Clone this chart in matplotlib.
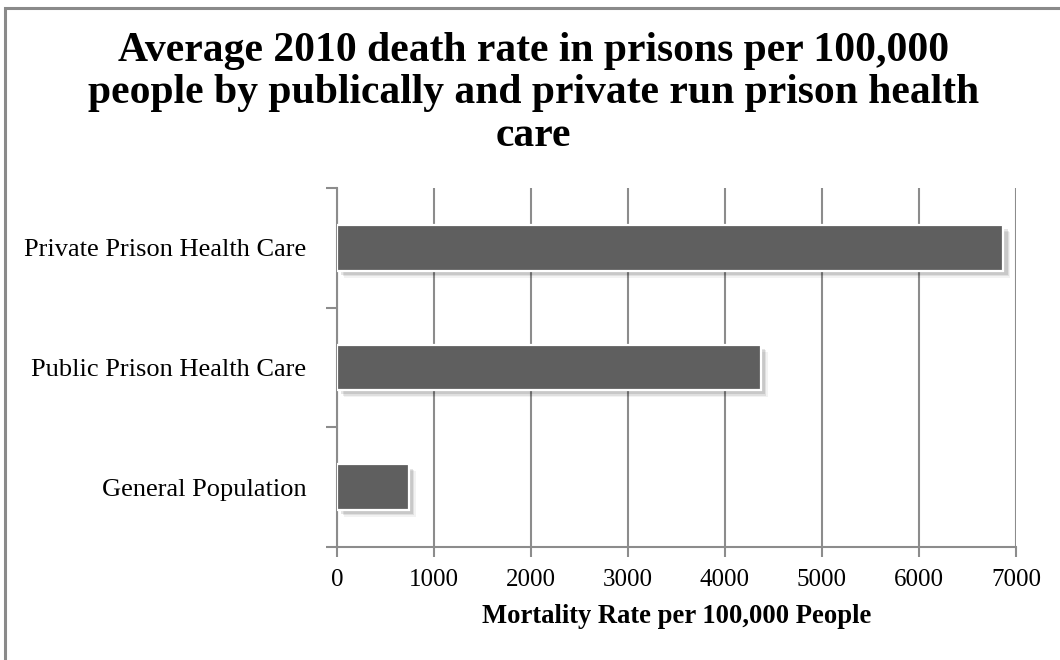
import matplotlib
matplotlib.use('Agg')
import matplotlib.pyplot as plt
import matplotlib.patheffects as pe
from matplotlib.patches import Rectangle

# mortality per 100,000 people, 2010
categories = ['General Population', 'Public Prison Health Care', 'Private Prison Health Care']
rates = [740, 4370, 6870]
x_ticks = [0, 1000, 2000, 3000, 4000, 5000, 6000, 7000]

title = ('Average 2010 death rate in prisons per 100,000\n'
         'people by publically and private run prison health\n'
         'care')

plt.rcParams['font.family'] = ['Liberation Serif', 'DejaVu Serif']

fig = plt.figure(figsize=(10.6, 6.6), dpi=100)
fig.patch.set_facecolor('white')

# outer chart frame (only top and left edges fall inside the canvas)
frame = Rectangle((5 / 1060, -0.1), 1.2, 1 - 8 / 660 + 0.1, transform=fig.transFigure,
                  fill=False, edgecolor='#8a8a8a', linewidth=2.2)
fig.patches.append(frame)

ax = fig.add_axes([337 / 1060, 1 - 547 / 660, (1016 - 337) / 1060, (547 - 188) / 660])

grid_c = '#8c8c8c'
ypos = list(range(len(categories)))
bars = ax.barh(ypos, rates, height=0.38, color='#5f5f5f', edgecolor='white',
               linewidth=1.6, zorder=3)
for b in bars:
    b.set_path_effects([
        pe.SimplePatchShadow(offset=(5, -5), shadow_rgbFace='#000000', alpha=0.05),
        pe.SimplePatchShadow(offset=(4, -4), shadow_rgbFace='#000000', alpha=0.08),
        pe.SimplePatchShadow(offset=(3, -3), shadow_rgbFace='#000000', alpha=0.10),
        pe.Normal(),
    ])

ax.set_xlim(0, 7000)
ax.set_ylim(-0.5, len(categories) - 0.5)

ax.set_xticks(x_ticks)
ax.set_xticklabels([str(v) for v in x_ticks], fontsize=18)
ax.tick_params(axis='x', direction='out', length=7, width=1.5, color=grid_c, pad=9)

# boundary ticks on the category axis, labels centred between them
ax.set_yticks([i - 0.5 for i in range(len(categories) + 1)])
ax.set_yticklabels([])
ax.tick_params(axis='y', which='major', direction='out', length=8, width=1.5, color=grid_c)
ax.set_yticks(ypos, minor=True)
ax.set_yticklabels(categories, minor=True, fontsize=19)
ax.tick_params(axis='y', which='minor', length=0, pad=22)

ax.grid(axis='x', color=grid_c, linewidth=1.5, zorder=0)
ax.set_axisbelow(True)
for s in ['top', 'right']:
    ax.spines[s].set_visible(False)
for s in ['left', 'bottom']:
    ax.spines[s].set_color(grid_c)
    ax.spines[s].set_linewidth(1.5)

ax.set_xlabel('Mortality Rate per 100,000 People', fontsize=19.2, fontweight='bold', labelpad=9)

fig.text(0.503, 1 - 32 / 660, title, ha='center', va='top', fontsize=30,
         fontweight='bold', linespacing=1.15)

fig.savefig('out.png', dpi=100)
